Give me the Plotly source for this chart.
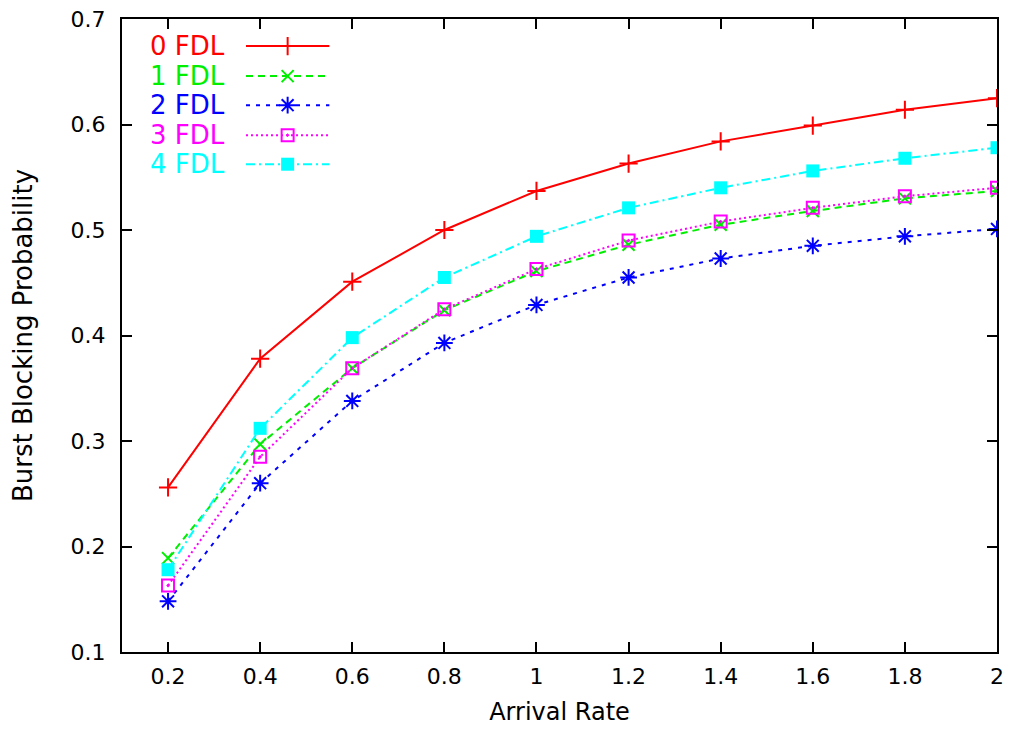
import plotly.graph_objects as go

# ---- data ----
arrival_rate = [0.2, 0.4, 0.6, 0.8, 1.0, 1.2, 1.4, 1.6, 1.8, 2.0]
fdl0 = [0.256, 0.378, 0.451, 0.500, 0.537, 0.563, 0.584, 0.599, 0.614, 0.625]
fdl1 = [0.189, 0.297, 0.369, 0.424, 0.461, 0.486, 0.505, 0.518, 0.530, 0.537]
fdl2 = [0.148, 0.260, 0.338, 0.393, 0.429, 0.455, 0.473, 0.485, 0.494, 0.501]
fdl3 = [0.163, 0.285, 0.369, 0.425, 0.463, 0.490, 0.508, 0.521, 0.532, 0.540]
fdl4 = [0.178, 0.312, 0.398, 0.455, 0.494, 0.521, 0.540, 0.556, 0.568, 0.578]
series_names = ["0 FDL", "1 FDL", "2 FDL", "3 FDL", "4 FDL"]
x_tick_vals = [0.2, 0.4, 0.6, 0.8, 1.0, 1.2, 1.4, 1.6, 1.8, 2.0]
x_tick_text = ["0.2", "0.4", "0.6", "0.8", "1", "1.2", "1.4", "1.6", "1.8", "2"]
y_tick_vals = [0.1, 0.2, 0.3, 0.4, 0.5, 0.6, 0.7]
y_tick_text = ["0.1", "0.2", "0.3", "0.4", "0.5", "0.6", "0.7"]

# ---- styles ----
FONT = "DejaVu Sans, Liberation Sans, Arial, sans-serif"
styles = [
    dict(color="#ff0000", dash="solid", symbol="cross-thin-open", size=13),
    dict(color="#00ee00", dash="7px,5px", symbol="x-thin-open", size=12),
    dict(color="#0000ff", dash="4px,6px", symbol="asterisk-open", size=14),
    dict(color="#ff00ff", dash="2px,3px", symbol="square-open-dot", size=12),
    dict(color="#00ffff", dash="9px,4px,2px,4px", symbol="square", size=13),
]
all_series = [fdl0, fdl1, fdl2, fdl3, fdl4]

fig = go.Figure()
for name, ys, st in zip(series_names, all_series, styles):
    filled = st["symbol"] == "square"
    fig.add_trace(go.Scatter(
        x=arrival_rate, y=ys, name=name, mode="lines+markers",
        line=dict(color=st["color"], width=2, dash=st["dash"]),
        marker=dict(symbol=st["symbol"], size=st["size"], color=st["color"],
                    line=dict(color=st["color"], width=0 if filled else 2)),
        showlegend=False,
    ))

# ---- gnuplot-style key (text left of the sample) on an overlay paper axis ----
key_text_x = 0.120
key_line_x0, key_line_x1, key_mark_x = 0.1417, 0.2370, 0.1893
key_rows = [0.9573, 0.9098, 0.8639, 0.8165, 0.7706]
for name, st, ky in zip(series_names, styles, key_rows):
    filled = st["symbol"] == "square"
    fig.add_trace(go.Scatter(
        x=[key_line_x0, key_line_x1], y=[ky, ky], mode="lines", xaxis="x2", yaxis="y2",
        line=dict(color=st["color"], width=2, dash=st["dash"]), showlegend=False,
        hoverinfo="skip"))
    fig.add_trace(go.Scatter(
        x=[key_mark_x], y=[ky], mode="markers", xaxis="x2", yaxis="y2",
        marker=dict(symbol=st["symbol"], size=st["size"], color=st["color"],
                    line=dict(color=st["color"], width=0 if filled else 2)),
        showlegend=False, hoverinfo="skip"))
    fig.add_annotation(x=key_text_x, y=ky, xref="paper", yref="paper",
                       text=name, showarrow=False, xanchor="right", yanchor="middle",
                       font=dict(family=FONT, size=26, color=st["color"]))

axis_common = dict(showline=True, linewidth=2, linecolor="black", mirror="ticks",
                   ticks="inside", ticklen=10, tickwidth=1.5, tickcolor="black",
                   showgrid=False, zeroline=False,
                   tickfont=dict(family=FONT, size=22, color="black"))

fig.update_layout(
    width=1010, height=735,
    margin=dict(l=122, r=6, t=19, b=83),
    paper_bgcolor="white", plot_bgcolor="white",
    xaxis=dict(range=[0.1, 2.0], tickvals=x_tick_vals, ticktext=x_tick_text,
               title=dict(text="Arrival Rate", standoff=15,
                          font=dict(family=FONT, size=24, color="black")),
               ticklabelstandoff=4, **axis_common),
    yaxis=dict(range=[0.1, 0.7], tickvals=y_tick_vals, ticktext=y_tick_text,
               title=dict(text="Burst Blocking Probability", standoff=30,
                          font=dict(family=FONT, size=26, color="black")),
               ticklabelstandoff=10, **axis_common),
    xaxis2=dict(domain=[0, 1], range=[0, 1], overlaying="x", visible=False),
    yaxis2=dict(domain=[0, 1], range=[0, 1], overlaying="y", visible=False),
    showlegend=False,
)

fig.write_html(
    "out.html", config={"displayModeBar": False},
    post_script=("document.documentElement.style.margin='0';"
                 "document.documentElement.style.overflow='hidden';"
                 "document.body.style.margin='0';document.body.style.padding='0';"
                 "document.body.style.overflow='hidden';"))
